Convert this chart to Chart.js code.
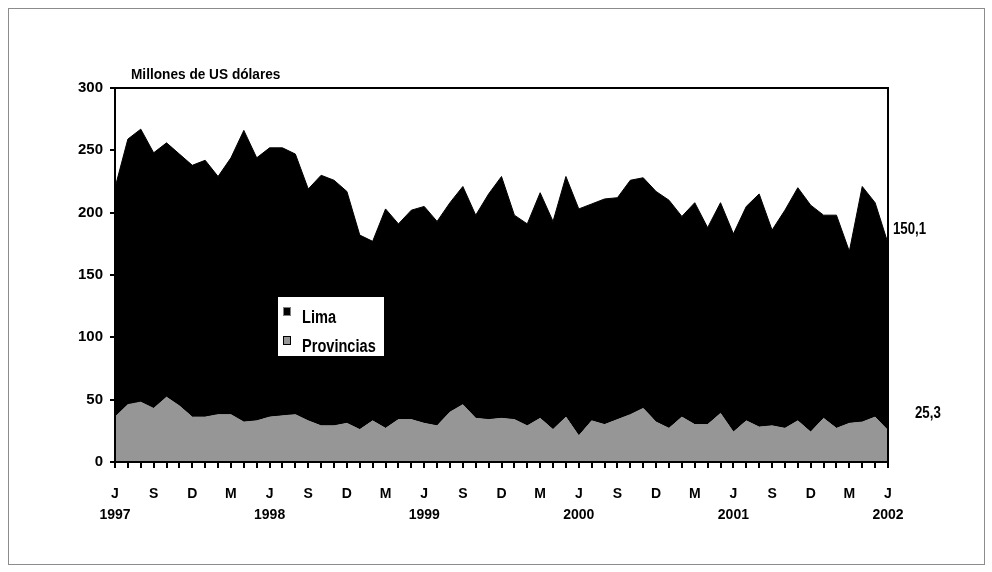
<!DOCTYPE html>
<html>
<head>
<meta charset="utf-8">
<script src="https://cdn.jsdelivr.net/npm/chart.js@4.4.1/dist/chart.umd.min.js"></script>
<style>
  body { margin: 0; background: #fff; }
  #wrap { position: relative; width: 992px; height: 572px; }
  #frame { position: absolute; left: 8px; top: 8px; width: 975px; height: 555px; border: 1px solid #8c8c8c; pointer-events: none; }
</style>
</head>
<body>
<div id="wrap">
  <canvas id="chart" width="992" height="572"></canvas>
  <div id="frame"></div>
</div>
<script>
// meses jun 1997 - jun 2002
const months = [
  'jun97','jul97','ago97','sep97','oct97','nov97','dic97','ene98','feb98','mar98','abr98','may98',
  'jun98','jul98','ago98','sep98','oct98','nov98','dic98','ene99','feb99','mar99','abr99','may99',
  'jun99','jul99','ago99','sep99','oct99','nov99','dic99','ene00','feb00','mar00','abr00','may00',
  'jun00','jul00','ago00','sep00','oct00','nov00','dic00','ene01','feb01','mar01','abr01','may01',
  'jun01','jul01','ago01','sep01','oct01','nov01','dic01','ene02','feb02','mar02','abr02','may02',
  'jun02'
];
// tick labels (every 3 months)
const tickMonths = ['J','S','D','M','J','S','D','M','J','S','D','M','J','S','D','M','J','S','D','M','J'];
const tickYears = ['1997','','','','1998','','','','1999','','','','2000','','','','2001','','','','2002'];

const provincias = [
  36, 46, 48, 43, 52, 45, 36, 36, 38, 38, 32, 33,
  36, 37, 38, 33, 29, 29, 31, 26, 33, 27, 34, 34,
  31, 29, 40, 46, 35, 34, 35, 34, 29, 35, 26, 36,
  21, 33, 30, 34, 38, 43, 32, 27, 36, 30, 30, 39,
  24, 33, 28, 29, 27, 33, 24, 35, 27, 31, 32, 36,
  25.3
];
const lima = [
  184, 213, 219, 205, 204, 202, 202, 206, 191, 206, 234, 211,
  216, 215, 209, 186, 201, 197, 186, 156, 144, 176, 157, 168,
  174, 164, 168, 175, 163, 181, 194, 164, 162, 181, 167, 193,
  182, 174, 181, 178, 188, 185, 185, 183, 161, 178, 158, 169,
  159, 172, 187, 157, 175, 187, 182, 163, 171, 138, 189, 172,
  150.1
];

const FONT = '"Liberation Sans", Arial, sans-serif';

const fmt = v => v.toFixed(1).replace('.', ',');

// draw text squeezed horizontally (the original uses a narrow face)
function narrow(ctx, text, x, y, sx) {
  ctx.save();
  ctx.translate(x, y);
  ctx.scale(sx, 1);
  ctx.fillText(text, 0, 0);
  ctx.restore();
}

// frame, title, legend and end labels
const extras = {
  id: 'extras',
  afterDatasetsDraw(chart) {
    const {ctx, chartArea: a} = chart;
    ctx.save();
    ctx.strokeStyle = '#000';
    ctx.lineWidth = 2;
    ctx.strokeRect(a.left, a.top, a.right - a.left, a.bottom - a.top);
    ctx.restore();
  },
  afterDraw(chart) {
    const {ctx, chartArea: a} = chart;
    ctx.save();
    ctx.fillStyle = '#000';
    ctx.textBaseline = 'alphabetic';
    ctx.font = 'bold 15px ' + FONT;
    narrow(ctx, 'Millones de US dólares', 131, 79, 0.91);

    // legend box
    ctx.fillStyle = '#fff';
    ctx.fillRect(278, 297, 106, 59);
    const ds = chart.data.datasets;
    const items = [ds[1], ds[0]];
    items.forEach((d, i) => {
      const ty = 316 + i * 29;
      ctx.fillStyle = d.backgroundColor;
      ctx.fillRect(283, ty - 9, 8, 9);
      ctx.strokeStyle = i === 0 ? '#808080' : '#000';
      ctx.lineWidth = 1;
      ctx.strokeRect(283.5, ty - 8.5, 7, 8);
      ctx.fillStyle = '#000';
      ctx.font = 'bold 18px ' + FONT;
      narrow(ctx, d.label, 302, ty + 7, 0.81);
    });

    // end values
    ctx.font = 'bold 17px ' + FONT;
    ctx.textBaseline = 'middle';
    narrow(ctx, fmt(lima[lima.length - 1]), a.right + 5, 229, 0.78);
    narrow(ctx, fmt(provincias[provincias.length - 1]), a.right + 27, 413, 0.78);
    ctx.restore();
  }
};

new Chart(document.getElementById('chart'), {
  type: 'line',
  data: {
    labels: months,
    datasets: [
      {
        label: 'Provincias',
        data: provincias,
        backgroundColor: '#969696',
        borderColor: '#969696',
        borderWidth: 1,
        fill: 'origin',
        pointRadius: 0,
        tension: 0
      },
      {
        label: 'Lima',
        data: lima,
        backgroundColor: '#000',
        borderColor: '#000',
        borderWidth: 1,
        fill: '-1',
        pointRadius: 0,
        tension: 0
      }
    ]
  },
  options: {
    responsive: false,
    animation: false,
    layout: { padding: { top: 88, right: 104, left: 0, bottom: 0 } },
    plugins: { legend: { display: false }, tooltip: { enabled: false } },
    scales: {
      x: {
        afterFit(s) { s.height = 110; },
        grid: { drawOnChartArea: false, color: '#000', lineWidth: 2, tickLength: 6 },
        border: { color: '#000', width: 2 },
        ticks: {
          autoSkip: false,
          maxRotation: 0,
          padding: 15,
          color: '#000',
          font: { family: FONT, size: 14, weight: 'bold', lineHeight: 1.55 },
          callback(v, i) {
            if (i % 3 !== 0) return '';
            const k = i / 3;
            return tickYears[k] ? [tickMonths[k], tickYears[k]] : tickMonths[k];
          }
        }
      },
      y: {
        stacked: true,
        min: 0,
        max: 300,
        afterFit(s) { s.width = 115; },
        grid: { drawOnChartArea: false, color: '#000', lineWidth: 2, tickLength: 5 },
        border: { color: '#000', width: 2 },
        ticks: {
          stepSize: 50,
          padding: 7,
          color: '#000',
          font: { family: FONT, size: 15, weight: 'bold' }
        }
      }
    }
  },
  plugins: [extras]
});
</script>
</body>
</html>
